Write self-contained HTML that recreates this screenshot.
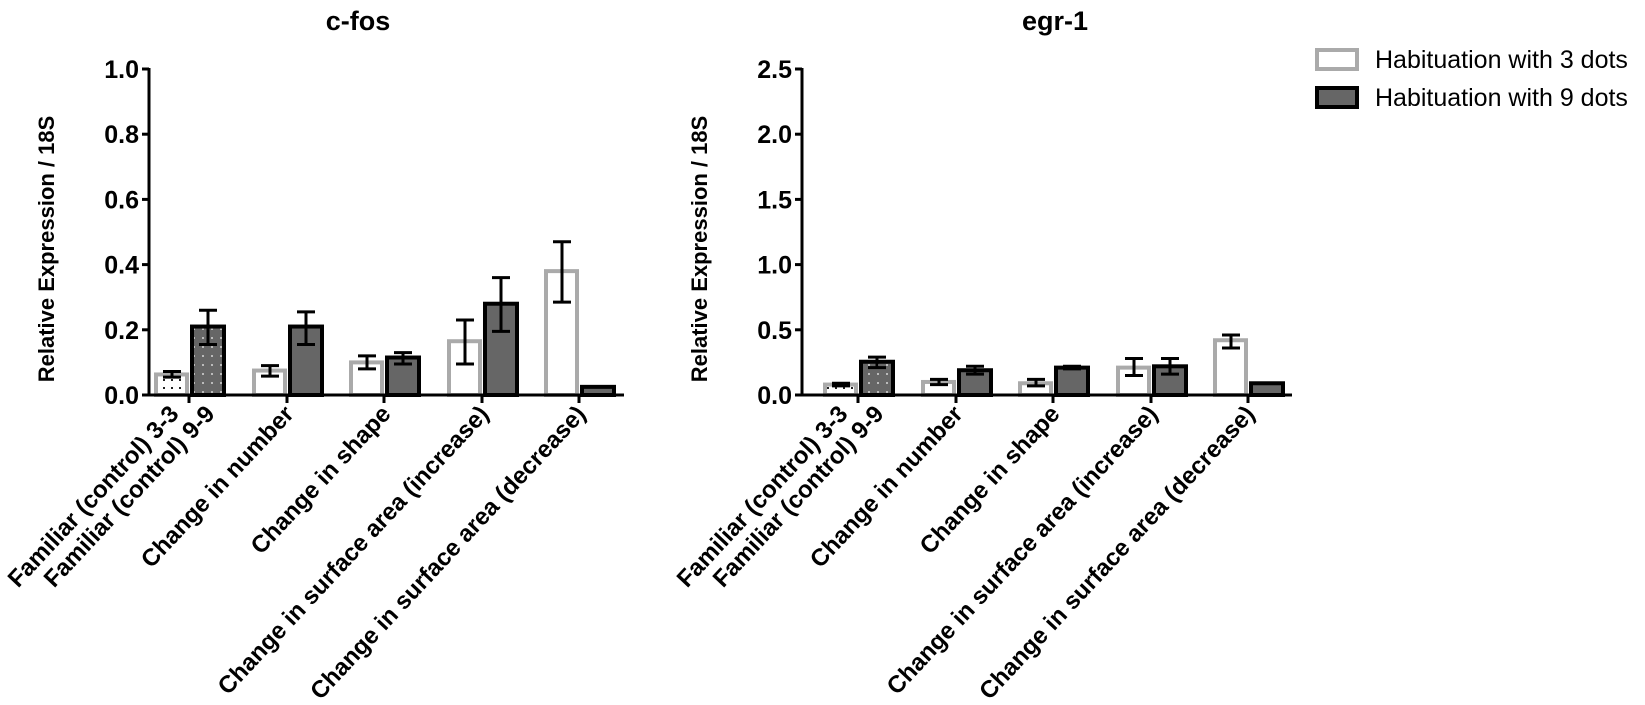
<!DOCTYPE html>
<html><head><meta charset="utf-8"><style>
html,body{margin:0;padding:0;background:#fff;}
svg{display:block;font-family:"Liberation Sans",Arial,sans-serif;}
</style></head><body>
<svg id="s" width="1645" height="705" viewBox="0 0 1645 705" xmlns="http://www.w3.org/2000/svg">
<defs>
<pattern id="pw" width="8" height="8" patternUnits="userSpaceOnUse"><rect width="8" height="8" fill="#fff"/><rect x="3" y="3" width="2" height="2" fill="#222"/></pattern>
<pattern id="pd" width="9" height="9" patternUnits="userSpaceOnUse"><rect width="9" height="9" fill="#666"/><rect x="4" y="4" width="2" height="2" fill="#bbb"/></pattern>
</defs>
<g font-weight="bold" font-size="27" text-anchor="middle">
<text x="358" y="30">c-fos</text>
<text x="1055" y="30">egr-1</text>
</g>
<rect x="1317" y="50" width="40" height="19" fill="#fff" stroke="#aaa" stroke-width="4"/>
<rect x="1317" y="88" width="40" height="19" fill="#666" stroke="#000" stroke-width="4"/>
<g font-size="25"><text x="1375" y="68">Habituation with 3 dots</text><text x="1375" y="106">Habituation with 9 dots</text></g>
</svg>
<script>
var s=document.getElementById('s');
function add(h){s.insertAdjacentHTML('beforeend',h);}
var labels=["Familiar (control) 3-3","Familiar (control) 9-9","Change in number","Change in shape","Change in surface area (increase)","Change in surface area (decrease)"];
function chart(ax,tick0,endx,max,step,data){
  var top=69,base=395,H=base-top,end=endx;
  var ticks=[tick0,tick0+98,tick0+195,tick0+293,tick0+390];
  function Y(v){return base-v/max*H;}
  data.forEach(function(d,i){
    var t=ticks[i];
    var w=d[0],k=d[1];
    add('<rect x="'+(t-33)+'" y="'+Y(w[0])+'" width="31" height="'+(base-Y(w[0]))+'" fill="'+(i==0?'url(#pw)':'#fff')+'" stroke="#aaa" stroke-width="4"/>');
    add('<rect x="'+(t+3)+'" y="'+Y(k[0])+'" width="32" height="'+(base-Y(k[0]))+'" fill="'+(i==0?'url(#pd)':'#666')+'" stroke="#000" stroke-width="4"/>');
    [[t-17,w],[t+19,k]].forEach(function(e){
      var c=e[0],v=e[1];
      if(v[1]==null)return;
      var y1=Y(v[1]),y2=Y(v[2]);
      add('<path d="M'+c+' '+y1+'V'+y2+'M'+(c-9)+' '+y1+'H'+(c+9)+'M'+(c-9)+' '+y2+'H'+(c+9)+'" stroke="#000" stroke-width="3" fill="none"/>');
    });
  });
  add('<path d="M'+ax+' '+(top-1)+'V'+base+'H'+end+'" stroke="#000" stroke-width="3" fill="none"/>');
  for(var v=0;v<=max+1e-9;v+=step){
    var y=Y(v);
    add('<path d="M'+(ax-7)+' '+y+'H'+ax+'" stroke="#000" stroke-width="3"/>');
    add('<text x="'+(ax-10)+'" y="'+(y+9)+'" text-anchor="end" font-size="25" font-weight="bold">'+v.toFixed(1)+'</text>');
  }
  ticks.forEach(function(t){add('<path d="M'+t+' '+base+'V'+(base+8)+'" stroke="#000" stroke-width="3"/>');});
  var lx=[ticks[0]-17,ticks[0]+19,ticks[1],ticks[2],ticks[3],ticks[4]];
  labels.forEach(function(l,i){
    var x=lx[i]+8,y=base+20;
    add('<text transform="translate('+x+','+y+') rotate(-47)" text-anchor="end" font-size="24" font-weight="bold">'+l+'</text>');
  });
  add('<text transform="translate('+(ax-95)+','+(top+180)+') rotate(-90)" text-anchor="middle" font-size="22" font-weight="bold">Relative Expression / 18S</text>');
}
chart(149,189,624,1.0,0.2,[
 [[0.063,0.055,0.072],[0.21,0.155,0.26]],
 [[0.075,0.058,0.09],[0.21,0.155,0.255]],
 [[0.10,0.08,0.12],[0.115,0.095,0.13]],
 [[0.165,0.095,0.23],[0.28,0.195,0.36]],
 [[0.38,0.285,0.47],[0.025,null,null]]
]);
chart(802,858,1292,2.5,0.5,[
 [[0.08,0.07,0.09],[0.255,0.21,0.29]],
 [[0.10,0.08,0.12],[0.19,0.16,0.22]],
 [[0.09,0.07,0.12],[0.21,0.20,0.22]],
 [[0.21,0.15,0.28],[0.22,0.16,0.28]],
 [[0.42,0.36,0.46],[0.09,null,null]]
]);
</script>
</body></html>
